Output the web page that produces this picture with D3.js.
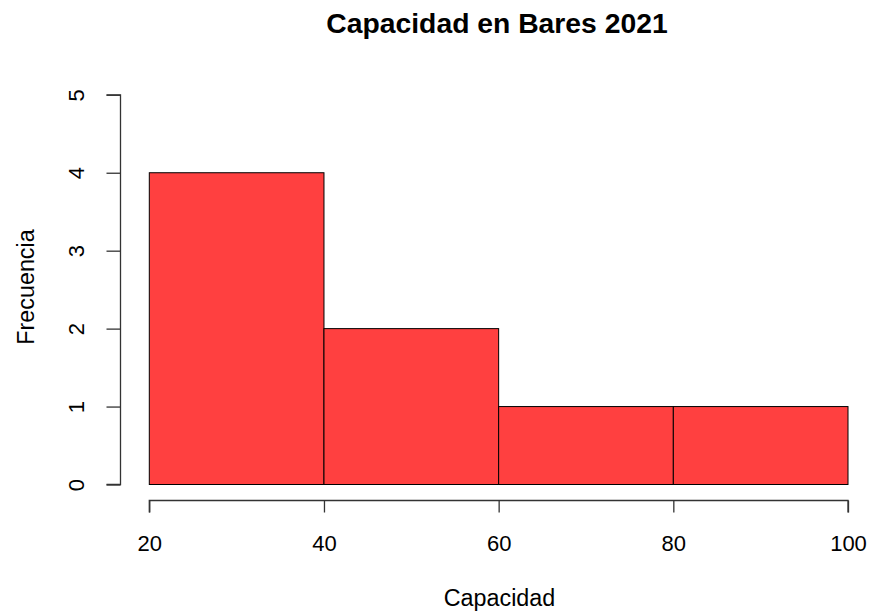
<!DOCTYPE html>
<html><head><meta charset="utf-8">
<script src="https://cdn.jsdelivr.net/npm/d3@7"></script>
<style>body{margin:0;background:#fff}svg{display:block}</style>
</head><body>
<script>
const binEdges = [20, 40, 60, 80, 100];
const counts = [4, 2, 1, 1];
const xTicks = [20, 40, 60, 80, 100];
const yTicks = [0, 1, 2, 3, 4, 5];
const title = "Capacidad en Bares 2021";
const xLabel = "Capacidad";
const yLabel = "Frecuencia";

const W = 871, H = 614;
const FONT = "Arial, 'Liberation Sans', sans-serif";
const svg = d3.select("body").append("svg").attr("width", W).attr("height", H)
  .style("font-family", FONT);

const x = d3.scaleLinear().domain([20, 100]).range([149.3, 848]);
const y = d3.scaleLinear().domain([0, 5]).range([484.5, 94.8]);

const bins = counts.map((c, i) => ({x0: binEdges[i], x1: binEdges[i + 1], c}));
svg.append("g").selectAll("rect").data(bins).join("rect")
  .attr("x", d => x(d.x0)).attr("y", d => y(d.c))
  .attr("width", d => x(d.x1) - x(d.x0)).attr("height", d => y(0) - y(d.c))
  .attr("fill", "#FF4040").attr("stroke", "#000").attr("stroke-width", 1);

const xAxis = d3.axisBottom(x).tickValues(xTicks).tickSize(12).tickPadding(14).tickFormat(d3.format("d"));
const gx = svg.append("g").attr("transform", "translate(0,500.5)").call(xAxis);
const yAxis = d3.axisLeft(y).tickValues(yTicks).tickSize(14).tickPadding(28).tickFormat(d3.format("d"));
const gy = svg.append("g").attr("transform", "translate(120.5,0)").call(yAxis);

[gx, gy].forEach(g => {
  g.select(".domain").attr("stroke", "#333").attr("stroke-width", 1.3);
  g.selectAll(".tick line").attr("stroke", "#333").attr("stroke-width", 1.3);
  g.selectAll("text").attr("font-size", 22).attr("fill", "#000").attr("font-family", FONT);
});
gx.select(".domain").attr("d", `M${x(20)},12V0H${x(100)}V12`);
gx.selectAll(".tick text").attr("y", 0).attr("dy", 0).attr("transform", "translate(0,50)");
gy.select(".domain").attr("d", `M-14,${y(5)}H0V${y(0)}H-14`);
gy.selectAll(".tick text")
  .attr("transform", "rotate(-90)")
  .attr("x", 0).attr("y", -44).attr("dy", "0.35em").attr("text-anchor", "middle");

svg.append("text").attr("x", 497).attr("y", 33).attr("text-anchor", "middle")
  .attr("font-size", 28.3).attr("font-weight", "bold").attr("fill", "#000").text(title);
svg.append("text").attr("x", 499.5).attr("y", 606).attr("text-anchor", "middle")
  .attr("font-size", 23.3).attr("fill", "#000").text(xLabel);
svg.append("text").attr("transform", "translate(33.5,287) rotate(-90)").attr("text-anchor", "middle")
  .attr("font-size", 23.3).attr("fill", "#000").text(yLabel);
</script>
</body></html>
